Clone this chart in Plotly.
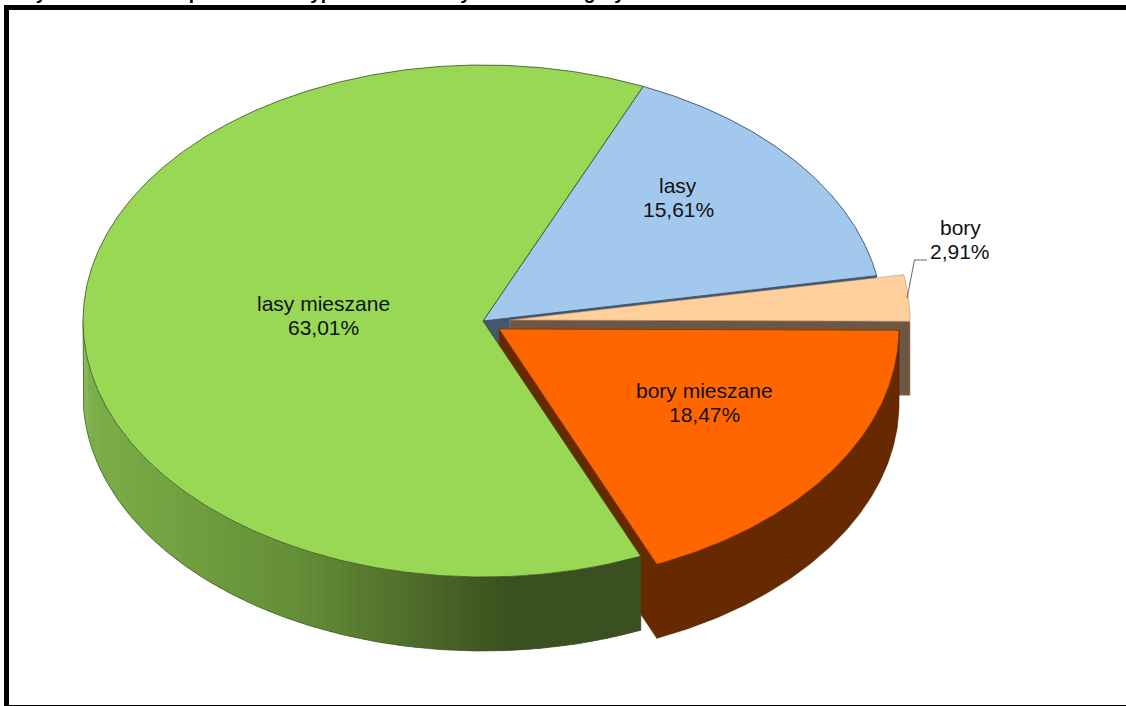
import math
import plotly.graph_objects as go

# --- data ---
categories = ["lasy", "bory", "bory mieszane", "lasy mieszane"]
values = [15.61, 2.91, 18.47, 63.01]
top_colors = ["#A3C8ED", "#FFCF9C", "#FF6600", "#98D855"]
edge_colors = ["#3A4E66", "#9A8468", "#7A3200", "#33501A"]
cut_colors = ["#46586E", "#6E5642", "#662900", "#3B5020"]
label_pos = [(678, 197), (960, 239), (704, 402), (323, 315)]
title_text = "Rysunek 1. Udział powierzchni typów siedliskowych lasów na góry"

# --- pie geometry (pixel-like axis units) ---
CX, CY, RX, RY, DEPTH = 483, 321, 400, 256, 74
START = 23.6
offsets = {"bory": (27, -1), "bory mieszane": (16, 8)}


def pt(c, t, dy=0):
    r = math.radians(t)
    return c[0] + RX * math.sin(r), c[1] - RY * math.cos(r) + dy


def arc(c, a, b, dy=0, step=0.5):
    n = max(2, int(abs(b - a) / step))
    return [pt(c, a + (b - a) * i / n, dy) for i in range(n + 1)]


def poly(fig, pts, fill, line=None, width=0.8):
    xs = [p[0] for p in pts] + [pts[0][0]]
    ys = [p[1] for p in pts] + [pts[0][1]]
    fig.add_trace(go.Scatter(
        x=xs, y=ys, mode="lines", fill="toself", fillcolor=fill,
        line=dict(color=line or fill, width=width if line else 0),
        hoverinfo="skip", showlegend=False))


def mix(x):
    stops = [(83, (124, 176, 72)), (300, (100, 141, 55)), (510, (59, 80, 32)), (640, (59, 80, 32))]
    for (x0, c0), (x1, c1) in zip(stops, stops[1:]):
        if x <= x1:
            f = max(0, (x - x0) / (x1 - x0))
            return "rgb(%d,%d,%d)" % tuple(round(a + (b - a) * f) for a, b in zip(c0, c1))
    return "rgb(59,80,32)"


# slice angles
angles = {}
t = START
for name, v in zip(categories, values):
    angles[name] = (t, t + v * 3.6)
    t += v * 3.6

centers = {n: (CX + offsets.get(n, (0, 0))[0], CY + offsets.get(n, (0, 0))[1]) for n in categories}
idx = {n: i for i, n in enumerate(categories)}
fig = go.Figure()


def top(name, width=0.8):
    c = centers[name]
    a, b = angles[name]
    i = idx[name]
    poly(fig, [c] + arc(c, a, b), top_colors[i], edge_colors[i], width)


def cut(name, t_edge):
    c = centers[name]
    p = pt(c, t_edge)
    i = idx[name]
    poly(fig, [c, p, (p[0], p[1] + DEPTH), (c[0], c[1] + DEPTH)], cut_colors[i], edge_colors[i], 0.6)


# back to front
cut("lasy", angles["lasy"][1])
cut("bory", angles["bory"][1])
top("bory", 0.5)
top("lasy", 0.9)
cut("bory mieszane", angles["bory mieszane"][1])

# orange outer wall
c = centers["bory mieszane"]
a, b = angles["bory mieszane"]
poly(fig, arc(c, a, b) + arc(c, b, a, DEPTH), cut_colors[2], "#4A1E00", 0.6)

# green outer wall as horizontal gradient strips
c = centers["lasy mieszane"]
a = angles["lasy mieszane"][0]
wall_end = 270
n = 90
for k in range(n):
    t0 = a + (wall_end - a) * k / n
    t1 = min(a + (wall_end - a) * (k + 1.3) / n, wall_end)
    strip = arc(c, t0, t1, 0, 0.3) + arc(c, t1, t0, DEPTH, 0.3)
    poly(fig, strip, mix(pt(c, (t0 + t1) / 2)[0]))
bottom = [pt(c, wall_end)] + arc(c, wall_end, a, DEPTH)
end_top = pt(c, a)
fig.add_trace(go.Scatter(
    x=[p[0] for p in bottom] + [end_top[0]], y=[p[1] for p in bottom] + [end_top[1]],
    mode="lines", line=dict(color="#39501F", width=0.7), hoverinfo="skip", showlegend=False))

top("lasy mieszane")
top("bory mieszane")

# leader line of the small slice
fig.add_trace(go.Scatter(x=[907, 914.5, 927], y=[298, 260, 260], mode="lines",
                         line=dict(color="#666666", width=1), hoverinfo="skip", showlegend=False))

# labels from the data (two lines, set closer than the default line height)
annotations = []
label_font = dict(family="Liberation Sans", size=21, color="#111111")
for name, v, (lx, ly) in zip(categories, values, label_pos):
    pct = f"{v:.2f}%".replace(".", ",")
    for txt, dy in ((name, -12), (pct, 12)):
        annotations.append(dict(x=lx, y=ly + dy, xref="x", yref="y", text=txt, showarrow=False,
                                font=label_font, xanchor="center", yanchor="middle", align="center"))
annotations.append(dict(x=20, y=5, xref="x", yref="y", text=title_text, showarrow=False,
                        font=dict(family="Liberation Sans", size=19, color="#000000", weight="bold"),
                        xanchor="left", yanchor="bottom"))

frame = dict(color="#000000", width=0)
shapes = [
    dict(type="rect", x0=4, x1=9, y0=5, y1=706, xref="x", yref="y", fillcolor="#000000", line=frame),
    dict(type="rect", x0=4, x1=1126, y0=5, y1=10, xref="x", yref="y", fillcolor="#000000", line=frame),
    dict(type="rect", x0=4, x1=1126, y0=705, y1=706, xref="x", yref="y", fillcolor="#000000", line=frame),
]

fig.update_layout(
    width=1126, height=706, autosize=False,
    margin=dict(l=0, r=0, t=0, b=0),
    paper_bgcolor="#FFFFFF", plot_bgcolor="#FFFFFF",
    xaxis=dict(range=[0, 1126], visible=False, fixedrange=True),
    yaxis=dict(range=[706, 0], visible=False, fixedrange=True),
    showlegend=False, annotations=annotations, shapes=shapes,
)

fig.write_html("out.html", config=dict(displayModeBar=False),
               post_script="document.body.style.margin='0';document.body.style.overflow='hidden';")
